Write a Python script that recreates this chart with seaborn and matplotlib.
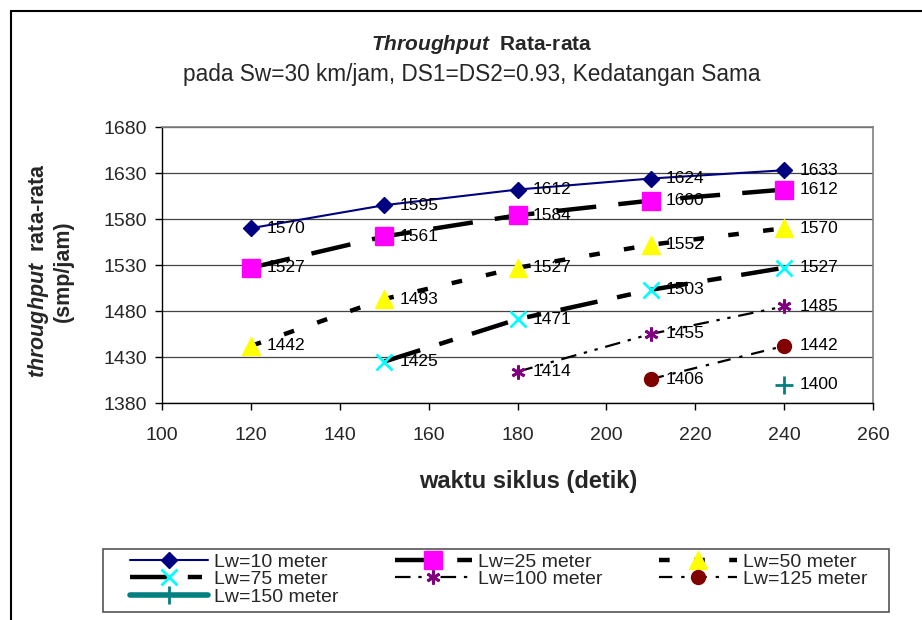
import matplotlib
matplotlib.use("Agg")
import matplotlib.pyplot as plt
from matplotlib.lines import Line2D
from matplotlib.patches import Rectangle
import seaborn as sns
import pandas as pd

# ---- data ----
cycle = [120, 150, 180, 210, 240]
lw10 = [1570, 1595, 1612, 1624, 1633]
lw25 = [1527, 1561, 1584, 1600, 1612]
lw50 = [1442, 1493, 1527, 1552, 1570]
lw75 = [None, 1425, 1471, 1503, 1527]
lw100 = [None, None, 1414, 1455, 1485]
lw125 = [None, None, None, 1406, 1442]
lw150 = [None, None, None, None, 1400]
labels = ["Lw=10 meter", "Lw=25 meter", "Lw=50 meter", "Lw=75 meter",
          "Lw=100 meter", "Lw=125 meter", "Lw=150 meter"]
yticks = [1380, 1430, 1480, 1530, 1580, 1630, 1680]
xticks = [100, 120, 140, 160, 180, 200, 220, 240, 260]

sns.set_style("ticks")
plt.rcParams["font.family"] = ["Liberation Sans", "DejaVu Sans"]
plt.rcParams["mathtext.fontset"] = "custom"
plt.rcParams["mathtext.bfit"] = "Liberation Sans:italic:bold"
plt.rcParams["mathtext.it"] = "Liberation Sans:italic"
plt.rcParams["mathtext.rm"] = "Liberation Sans"
plt.rcParams["mathtext.bf"] = "Liberation Sans:bold"

W, H = 922, 620
fig = plt.figure(figsize=(W / 100, H / 100), dpi=100)
ax = fig.add_axes([162 / W, 1 - 403 / H, (873 - 162) / W, (403 - 127) / H])

styles = [
    dict(color="#000080", lw=1.5, ls="-", marker="D", ms=8, mfc="#000080", mec="#000080", mew=1),
    dict(color="black", lw=3.2, ls=(0, (9, 5)), marker="s", ms=13, mfc="#FF00FF", mec="#FF00FF", mew=1),
    dict(color="black", lw=3.2, ls=(0, (2.4, 5.5)), marker="^", ms=13, mfc="#FFFF00", mec="#FFFF00", mew=1),
    dict(color="black", lw=3.2, ls=(0, (8.5, 4.5, 3.2, 4.5)), marker="x", ms=12, mfc="#00FFFF", mec="#00FFFF", mew=2),
    dict(color="black", lw=1.6, ls=(0, (7, 3.5, 1.5, 3.5, 1.5, 3.5)), marker=(6, 2, 0), ms=10, mfc="#800080", mec="#800080", mew=2),
    dict(color="black", lw=1.6, ls=(0, (6, 4, 1.5, 4)), marker="o", ms=10, mfc="#800000", mec="#800000", mew=1),
    dict(color="#008080", lw=4, ls="-", marker="+", ms=13, mfc="#008080", mec="#008080", mew=2),
]
series = [lw10, lw25, lw50, lw75, lw100, lw125, lw150]

for vals, st, lab in zip(series, styles, labels):
    df = pd.DataFrame({"x": cycle, "y": vals}).dropna()
    sns.lineplot(data=df, x="x", y="y", ax=ax, color=st["color"], linewidth=st["lw"],
                 marker=st["marker"], markersize=st["ms"], markerfacecolor=st["mfc"],
                 markeredgecolor=st["mec"], markeredgewidth=st["mew"], legend=False,
                 errorbar=None, sort=False)
    ax.lines[-1].set_linestyle(st["ls"])
    ax.lines[-1].set_dash_capstyle("butt")
    for xv, yv in zip(df["x"], df["y"]):
        ax.annotate(f"{int(yv)}", (xv, yv), xytext=(11, 0), textcoords="offset points",
                    va="center", ha="left", fontsize=12.5, color="black")

ax.set_xlim(100, 260)
ax.set_ylim(1380, 1680)
ax.set_xticks(xticks)
ax.set_yticks(yticks)
ax.tick_params(axis="both", direction="out", length=5, width=1, labelsize=14, color="black")
ax.tick_params(axis="x", pad=12)
ax.tick_params(axis="y", pad=6)
ax.grid(axis="y", color="#444444", linewidth=0.9)
ax.grid(axis="x", visible=False)
for s in ["left", "bottom"]:
    ax.spines[s].set_color("black")
    ax.spines[s].set_linewidth(1)
for s in ["top", "right"]:
    ax.spines[s].set_visible(True)
    ax.spines[s].set_color("#808080")
    ax.spines[s].set_linewidth(1.2)
ax.set_xlabel("")
ax.set_ylabel("")

# titles
fig.text(482 / W, 1 - 50 / H, r"$\mathbfit{Throughput}$  Rata-rata", ha="center", va="baseline",
         fontsize=15, fontweight="bold")
fig.text(472 / W, 1 - 81 / H, "pada Sw=30 km/jam, DS1=DS2=0.93, Kedatangan Sama",
         ha="center", va="baseline", fontsize=16.3)
fig.text(528 / W, 1 - 488 / H, "waktu siklus (detik)", ha="center", va="baseline",
         fontsize=17, fontweight="bold")
fig.text(50 / W, 1 - 271 / H, "$\\mathbfit{throughput}$  rata-rata\n(smp/jam)", rotation=90,
         ha="center", va="center", fontsize=15.5, fontweight="bold", linespacing=1.1,
         multialignment="center")

# legend
handles = []
for st in styles:
    handles.append(Line2D([0], [0], color=st["color"], lw=st["lw"], ls=st["ls"], marker=st["marker"],
                          ms=st["ms"], mfc=st["mfc"], mec=st["mec"], mew=st["mew"]))
order = [0, 3, 6, 1, 4, 2, 5]
leg = fig.legend([handles[i] for i in order], [labels[i] for i in order], ncol=3,
                 loc="upper left", bbox_to_anchor=(130 / W, 1 - 553 / H), frameon=False,
                 fontsize=14, handlelength=4.0, handletextpad=0.3, columnspacing=2.9,
                 labelspacing=0.0, borderpad=0, borderaxespad=0)
fig.add_artist(Rectangle((103 / W, 1 - 612 / H), (889 - 103) / W, (612 - 549) / H,
                         transform=fig.transFigure, fill=False, edgecolor="#555555", lw=1.2))
# outer frame
fig.add_artist(Line2D([11 / W, 11 / W], [0, 1 - 11 / H], transform=fig.transFigure, color="black", lw=1.5))
fig.add_artist(Line2D([11 / W, 1], [1 - 11 / H, 1 - 11 / H], transform=fig.transFigure, color="black", lw=1.5))

fig.savefig("out.png", dpi=100)
